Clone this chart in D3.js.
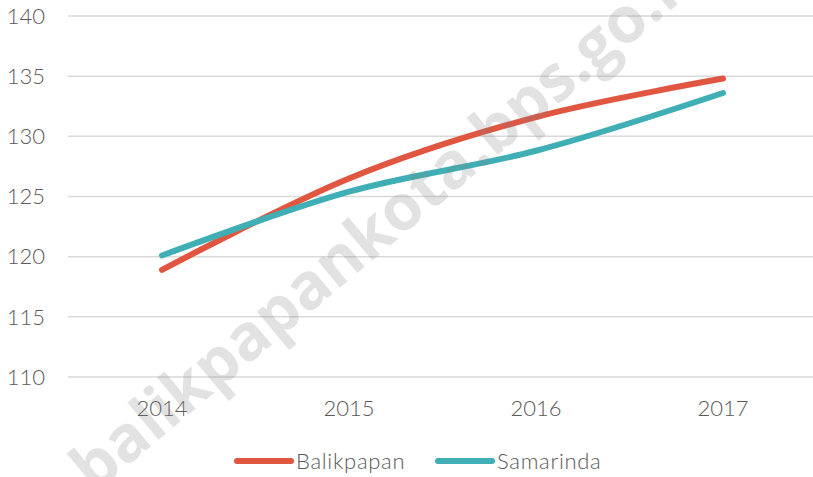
<!DOCTYPE html>
<html>
<head>
<meta charset="utf-8">
<script src="https://cdn.jsdelivr.net/npm/d3@7"></script>
<style>
  body { margin: 0; background: #fff; }
  text { font-family: Lato, "Open Sans", sans-serif; }
</style>
</head>
<body>
<div id="chart"></div>
<script>
// data
const years = ['2014', '2015', '2016', '2017'];
const balikpapan = [118.9, 126.5, 131.6, 134.8];
const samarinda = [120.1, 125.4, 128.8, 133.6];
const yTicks = [110, 115, 120, 125, 130, 135, 140];

const width = 813;
const height = 477;

const svg = d3.select('#chart').append('svg')
  .attr('width', width)
  .attr('height', height);

const x = d3.scalePoint().domain(years).range([162, 723]);
const y = d3.scaleLinear().domain([110, 140]).range([377, 16]);

// grid
svg.append('g')
  .selectAll('line')
  .data(yTicks)
  .enter()
  .append('line')
  .attr('x1', 68)
  .attr('x2', 813)
  .attr('y1', d => y(d))
  .attr('y2', d => y(d))
  .style('stroke', '#d9d9d9')
  .style('stroke-width', 1.5);

// y axis labels
svg.append('g')
  .selectAll('text')
  .data(yTicks)
  .enter()
  .append('text')
  .attr('x', 45)
  .attr('y', d => y(d))
  .attr('dy', '0.35em')
  .attr('text-anchor', 'end')
  .style('font-size', '22px')
  .style('font-weight', 300)
  .style('fill', '#595959')
  .text(d => d);

// x axis labels
svg.append('g')
  .selectAll('text')
  .data(years)
  .enter()
  .append('text')
  .attr('x', d => x(d))
  .attr('y', 408)
  .attr('dy', '0.35em')
  .attr('text-anchor', 'middle')
  .style('font-size', '22px')
  .style('font-weight', 300)
  .style('fill', '#595959')
  .text(d => d);

// lines
const series = [
  { name: 'Balikpapan', values: balikpapan, color: '#e15641' },
  { name: 'Samarinda', values: samarinda, color: '#3fafb5' }
];

const line = d3.line()
  .x((d, i) => x(years[i]))
  .y(d => y(d))
  .curve(d3.curveCatmullRom.alpha(0));

svg.append('g')
  .selectAll('path')
  .data(series)
  .enter()
  .append('path')
  .attr('d', d => line(d.values))
  .style('fill', 'none')
  .style('stroke', d => d.color)
  .style('stroke-width', 6)
  .style('stroke-linecap', 'round');

// legend
const legendX = [237, 438];
const legend = svg.append('g')
  .selectAll('g')
  .data(series)
  .enter()
  .append('g')
  .attr('transform', (d, i) => `translate(${legendX[i]}, 461)`);

legend.append('line')
  .attr('x1', 0)
  .attr('x2', 54)
  .style('stroke', d => d.color)
  .style('stroke-width', 6)
  .style('stroke-linecap', 'round');

legend.append('text')
  .attr('x', 59)
  .attr('dy', '0.35em')
  .style('font-size', '22px')
  .style('font-weight', 300)
  .style('letter-spacing', '0.7px')
  .style('fill', '#595959')
  .text(d => d.name);

// watermark
svg.append('text')
  .attr('transform', 'translate(94, 494) rotate(-40)')
  .style('font-family', '"Open Sans", sans-serif')
  .style('font-size', '64px')
  .style('font-weight', 700)
  .style('fill', '#808080')
  .style('opacity', 0.22)
  .text('balikpapankota.bps.go.id');
</script>
</body>
</html>
